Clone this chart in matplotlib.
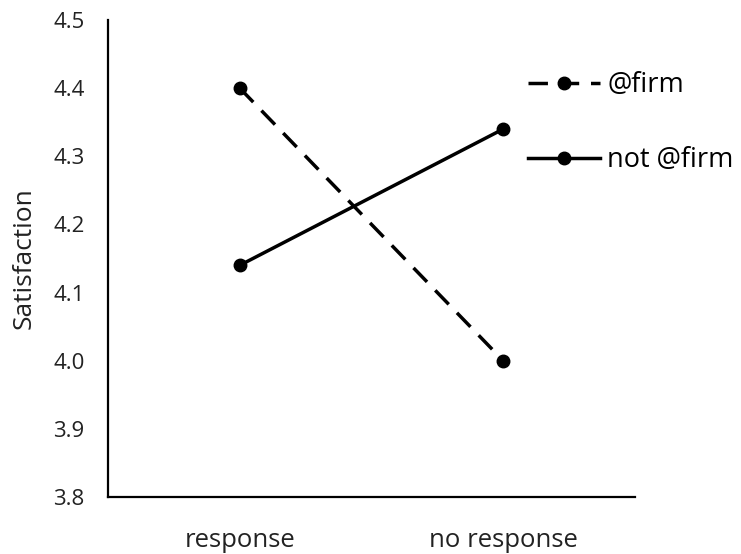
import matplotlib.pyplot as plt

# Satisfaction by response condition
categories = ['response', 'no response']
at_firm = [4.40, 4.00]
not_at_firm = [4.14, 4.34]
yticks = [3.8, 3.9, 4.0, 4.1, 4.2, 4.3, 4.4, 4.5]

plt.rcParams['font.family'] = ['Open Sans', 'DejaVu Sans']

fig = plt.figure(figsize=(7.41, 5.54), dpi=100)
ax = fig.add_axes([108 / 741, 1 - 497 / 554, 527 / 741, 477 / 554])

x = range(len(categories))
ax.plot(x, at_firm, color='black', lw=2.5, dashes=(5.6, 3.4),
        marker='o', markersize=9, label='@firm')
ax.plot(x, not_at_firm, color='black', lw=2.5,
        marker='o', markersize=9, label='not @firm')

ax.set_xlim(-0.5, 1.5)
ax.set_ylim(3.8, 4.5)
ax.set_yticks(yticks)
ax.set_yticklabels([f'{v:.1f}' for v in yticks])
ax.set_xticks(list(x))
ax.set_xticklabels(categories)
ax.tick_params(axis='both', length=0, colors='#222222')
ax.tick_params(axis='x', pad=22.5, labelsize=18.5)
ax.tick_params(axis='y', pad=17, labelsize=16)

for s in ['top', 'right']:
    ax.spines[s].set_visible(False)
for s in ['left', 'bottom']:
    ax.spines[s].set_linewidth(1.6)

ax.set_ylabel('Satisfaction', fontsize=19, color='#222222', labelpad=12)

ax.legend(loc='upper left', bbox_to_anchor=(528 / 741, 1 - 71 / 554),
          bbox_transform=fig.transFigure, frameon=False, fontsize=19.5,
          borderpad=0, borderaxespad=0,
          handlelength=2.65, handletextpad=0.28, labelspacing=1.75)

fig.savefig('out.png', dpi=100)
